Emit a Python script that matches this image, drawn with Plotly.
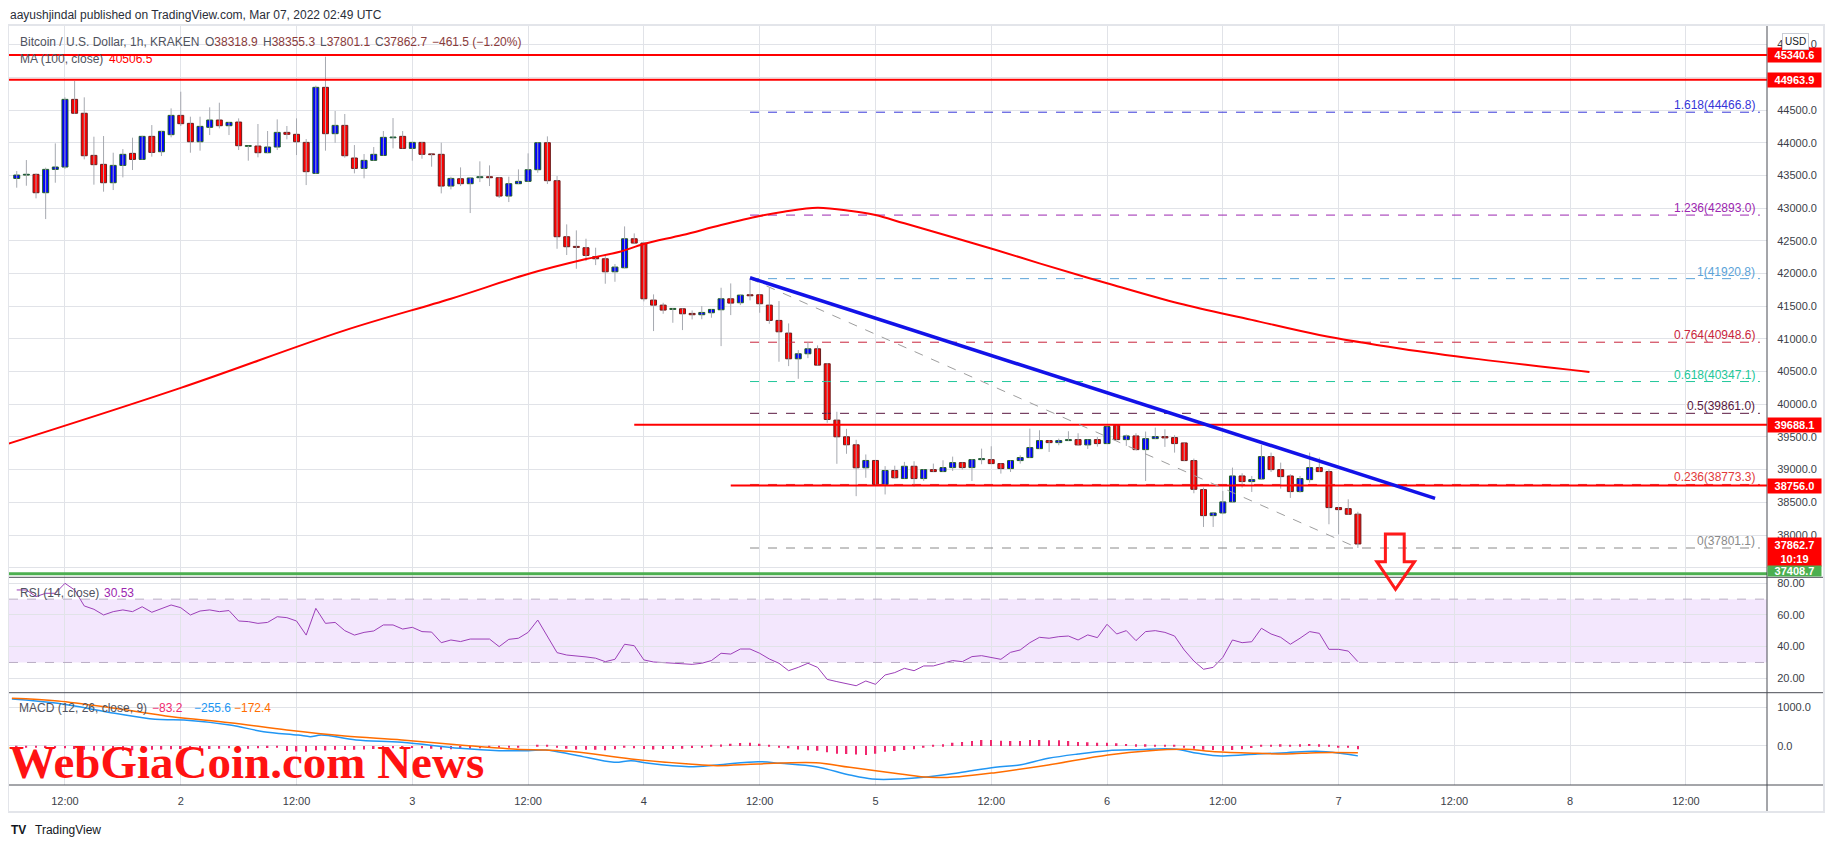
import pandas as pd
import plotly.graph_objects as go

# BTC/USD 1h candles (KRAKEN), first candle 2022-03-01 07:00
START = "2022-03-01 07:00"
OPEN = [43454, 43505, 43516, 43235, 43592, 43628, 44663, 44450, 43806, 43669,
        43388, 43653, 43837, 43745, 44097, 43862, 44123, 44418, 44296, 44015,
        44235, 44347, 44260, 44316, 43944, 43949, 43847, 43934, 44158, 44128,
        44005, 43531, 44847, 44138, 44265, 43766, 43607, 43730, 43806, 44075,
        44097, 43913, 44005, 43827, 43822, 43337,
        43449, 43373, 43465, 43480, 43465, 43184, 43373, 43409, 43587, 44000,
        43419, 42562, 42414, 42394, 42256, 42225, 42026, 42087, 42531, 42465,
        41593, 41516, 41450, 41460, 41389, 41369, 41399, 41445, 41613, 41552,
        41674, 41674, 41516, 41282, 41088, 40695, 40772, 40848, 40619, 39757,
        39502, 39380, 39028, 39140, 38773, 38987,
        38863, 39051, 38863, 39000, 38970, 39031, 39107, 39031, 39153, 39153,
        39092, 39016, 39138, 39184, 39321, 39444, 39413, 39444, 39459, 39378,
        39459, 39398, 39679, 39459, 39515, 39306, 39474, 39505, 39490, 39408,
        39138, 38694, 38296, 38337, 38506, 38903, 38817, 38857, 39199, 39000,
        38903, 38664, 38847, 39031, 38970, 38419, 38403, 38318.9]
HIGH = [43567, 43735, 43530, 43618, 43990, 44694, 44944, 44694, 44092, 44102,
        43847, 43903, 44077, 44105, 44270, 44180, 44525, 44780, 44398, 44398,
        44541, 44612, 44315, 44372, 43955, 44286, 44179, 44357, 44255, 44372,
        44056, 44872, 45316, 44485, 44439, 43964, 43827, 43934, 44179, 44377,
        44179, 44010, 44010, 43830, 44000, 43480,
        43623, 43465, 43715, 43653, 43470, 43480, 43592, 43837, 44005, 44097,
        43490, 42751, 42659, 42532, 42394, 42266, 42144, 42720, 42613, 42470,
        41680, 41552, 41470, 41465, 41435, 41501, 41455, 41782, 41848, 41675,
        41920.8, 41680, 41782, 41578, 41236, 40828, 40950, 40900, 40630, 39885,
        39624, 39456, 39232, 39145, 39053, 39060,
        39118, 39128, 39005, 39092, 39143, 39199, 39110, 39160, 39321, 39357,
        39095, 39140, 39219, 39627, 39602, 39450, 39474, 39587, 39556, 39462,
        39498, 39660, 39685, 39536, 39556, 39582, 39643, 39617, 39526, 39412,
        39169, 38725, 38340, 38674, 39031, 38944, 38903, 39378, 39260, 39107,
        38929, 38903, 39260, 39184, 39005, 38430, 38546, 38355.3]
LOW = [43312, 43342, 43149, 42832, 43388, 43600, 44440, 43745, 43358, 43251,
       43276, 43470, 43582, 43740, 43786, 43796, 44082, 44255, 43847, 43878,
       44117, 44219, 44117, 43888, 43725, 43776, 43840, 43888, 44051, 43811,
       43352, 43525, 43878, 44000, 43771, 43531, 43455, 43725, 43800, 43913,
       43910, 43725, 43755, 43633, 43225, 43286,
       43337, 42924, 43398, 43337, 43154, 43092, 43370, 43405, 43540, 43368,
       42378, 42282, 42072, 42190, 42128, 41843, 41873, 42080, 42460, 41573,
       41119, 41384, 41246, 41134, 41297, 41300, 41323, 40889, 41363, 41516,
       41588, 41399, 41231, 40650, 40583, 40389, 40705, 40590, 39716, 39089,
       39242, 38594, 38875, 38768, 38620, 38860,
       38860, 38740, 38827, 38965, 38965, 38980, 39000, 38827, 39082, 39088,
       38939, 38964, 39092, 39180, 39316, 39270, 39372, 39440, 39375, 39316,
       39352, 39395, 39455, 39362, 39300, 38827, 39470, 39347, 39260, 39130,
       38638, 38123, 38123, 38317, 38500, 38725, 38658, 38850, 38964, 38710,
       38567, 38648, 38801, 38965, 38164, 38011, 38310, 37801.1]
CLOSE = [43505, 43515, 43235, 43592, 43628, 44663, 44450, 43801, 43664, 43388,
         43653, 43822, 43745, 44097, 43852, 44174, 44418, 44291, 44015, 44250,
         44347, 44260, 44311, 43954, 43949, 43847, 43934, 44158, 44128, 44015,
         43557, 44847, 44138, 44265, 43801, 43607, 43730, 43822, 44082, 44085,
         43913, 44005, 43822, 43817, 43337, 43454,
         43373, 43460, 43480, 43465, 43184, 43373, 43409, 43587, 44000, 43419,
         42562, 42409, 42399, 42276, 42225, 42026, 42098, 42531, 42465, 41613,
         41516, 41440, 41465, 41384, 41369, 41404, 41450, 41613, 41547, 41669,
         41659, 41537, 41282, 41108, 40695, 40772, 40848, 40598, 39767, 39502,
         39380, 39028, 39140, 38773, 38987, 38875,
         39051, 38863, 39000, 38970, 39031, 39107, 39031, 39153, 39168, 39092,
         39016, 39138, 39184, 39337, 39444, 39413, 39444, 39459, 39378, 39459,
         39398, 39658, 39459, 39515, 39306, 39474, 39505, 39485, 39398, 39138,
         38699, 38296, 38337, 38506, 38903, 38817, 38847, 39199, 39000, 38893,
         38664, 38863, 39031, 38970, 38419, 38388, 38317, 37862.7]

RSI = [75.8, 75.8, 71.6, 73.7, 73.7, 80.0, 75.8, 65.7, 63.6, 60.0,
       62.1, 63.2, 62.1, 65.2, 61.7, 64.2, 66.3, 64.6, 60.0, 62.5,
       63.2, 62.1, 62.8, 56.2, 55.8, 54.7, 55.3, 58.9, 58.3, 56.2,
       47.3, 64.2, 54.7, 55.3, 50.1, 47.3, 49.0, 49.9, 53.7, 53.7,
       51.1, 52.2, 49.5, 49.2, 42.5, 44.2, 43.2, 44.8, 45.0, 44.8,
       40.0, 44.6, 45.3, 49.0, 56.8, 46.3, 36.2, 34.7, 34.3, 33.5,
       32.7, 30.5, 32.0, 41.5, 40.6, 31.6, 30.3, 29.9, 29.9, 29.5,
       28.8, 29.5, 31.2, 35.8, 35.3, 38.5, 38.5, 35.8, 32.2, 29.5,
       24.8, 26.9, 29.5, 26.9, 19.3, 17.9, 16.8, 15.3, 18.3, 16.2,
       22.1, 23.6, 26.3, 24.8, 27.8, 27.8, 29.5, 31.2, 30.5, 33.7,
       34.3, 33.0, 32.0, 36.4, 37.9, 42.5, 45.9, 45.3, 46.3, 46.7,
       44.2, 47.4, 45.7, 54.1, 48.0, 50.1, 43.8, 49.5, 50.1, 49.0,
       46.7, 37.9, 30.9, 25.7, 26.9, 33.2, 44.2, 42.5, 43.1, 51.6,
       48.0, 45.9, 41.5, 45.3, 49.5, 48.4, 38.3, 38.3, 37.2, 30.53]

HIST = [-20, -30, -40, -50, -55, -60, -80, -100, -115, -125,
        -129, -120, -110, -100, -95, -90, -86, -80, -90, -95,
        -80, -70, -60, -65, -70, -60, -50, -45, -130, -140,
        -150, -110, -115, -100, -105, -100, -90, -75, -65, -60,
        -60, -55, -60, -70, -90, -86, -80, -70, -60, -50,
        -40, -35, -30, 0, 20, 10, -40, -70, -90, -95,
        -100, -110, -86, -43, -60, -80, -90, -80, -75, -70,
        -50, -30, 10, 40, 60, 80, 86, 60, 20, -20,
        -60, -90, -110, -120, -160, -200, -210, -220, -230, -200, -150, -130,
        -103, -86, -20, 17, 43, 86, 103, 129, 155, 155,
        138, 129, 129, 155, 155, 146, 146, 129, 103, 95,
        86, 86, 69, 52, 43, 43, 26, 26, 9, -26,
        -69, -95, -103, -120, -103, -86, -52, 9, 17, 43,
        26, 43, 52, 43, 17, -26, -34, -83.2]

MACD_T = ["2022-03-01 06:30", "2022-03-01 11:15", "2022-03-01 17:10", "2022-03-01 21:20",
          "2022-03-02 00:20", "2022-03-02 05:05", "2022-03-02 08:35", "2022-03-02 12:10",
          "2022-03-02 13:25", "2022-03-02 14:35", "2022-03-02 18:10", "2022-03-02 22:55",
          "2022-03-03 04:55", "2022-03-03 09:00", "2022-03-03 12:00", "2022-03-03 13:50",
          "2022-03-03 16:50", "2022-03-03 20:55", "2022-03-03 22:40", "2022-03-04 00:30",
          "2022-03-04 04:40", "2022-03-04 07:35", "2022-03-04 11:50", "2022-03-04 14:10",
          "2022-03-04 17:50", "2022-03-04 21:20", "2022-03-04 23:40", "2022-03-05 02:35",
          "2022-03-05 05:00", "2022-03-05 08:40", "2022-03-05 12:25", "2022-03-05 14:55",
          "2022-03-05 17:55", "2022-03-05 21:00", "2022-03-06 00:05", "2022-03-06 03:10",
          "2022-03-06 06:55", "2022-03-06 09:25", "2022-03-06 11:50", "2022-03-06 15:35",
          "2022-03-06 18:35", "2022-03-06 21:40", "2022-03-07 00:10", "2022-03-07 02:00"]
MACD = [1214, 1102, 844, 689, 672, 543, 370, 284, 241, 284, 155, 95, -60, -121, -121, -103,
        -233, -422, -379, -448, -534, -491, -405, -448, -534, -749, -853, -853,
        -810, -689, -551, -491, -319, -207, -121, -95, -78, -189, -258, -207, -172, -138,
        -189, -255.6]
SIG_T = ["2022-03-01 06:30", "2022-03-01 11:15", "2022-03-01 17:10", "2022-03-01 23:05",
         "2022-03-02 05:05", "2022-03-02 11:00", "2022-03-02 17:00", "2022-03-02 22:55",
         "2022-03-03 04:55", "2022-03-03 10:50", "2022-03-03 13:50", "2022-03-03 16:50",
         "2022-03-03 22:40", "2022-03-04 04:40", "2022-03-04 07:35", "2022-03-04 11:50",
         "2022-03-04 17:50", "2022-03-04 21:20", "2022-03-05 02:35", "2022-03-05 05:35",
         "2022-03-05 08:40", "2022-03-05 12:25", "2022-03-05 17:55", "2022-03-06 00:05",
         "2022-03-06 04:25", "2022-03-06 08:05", "2022-03-06 11:10", "2022-03-06 15:35",
         "2022-03-06 18:35", "2022-03-06 21:40", "2022-03-07 02:00"]
SIGNAL = [1232, 1163, 973, 758, 603, 413, 258, 155, 26, -86, -103, -146, -336, -465, -508,
          -465, -431, -551, -723, -810, -792, -689, -491, -233, -121, -86, -146, -189, -207,
          -172, -172.4]

MA_T = ["2022-03-01 06:00", "2022-03-02 00:00", "2022-03-02 17:00", "2022-03-03 04:00",
        "2022-03-03 12:00", "2022-03-03 18:00", "2022-03-03 21:30",
        "2022-03-04 00:00", "2022-03-04 04:00", "2022-03-04 08:00", "2022-03-04 12:00",
        "2022-03-04 14:30", "2022-03-04 18:00", "2022-03-04 21:30", "2022-03-05 00:00",
        "2022-03-05 03:00", "2022-03-05 12:30", "2022-03-05 17:00", "2022-03-06 00:00",
        "2022-03-06 07:30", "2022-03-06 15:00", "2022-03-06 22:00", "2022-03-07 06:30",
        "2022-03-07 14:30", "2022-03-08 02:00"]
MA = [39390, 40250, 41130, 41614, 41992, 42220, 42333, 42451, 42588, 42741, 42879,
      42945, 43006, 42955, 42894, 42767, 42359, 42155, 41850, 41540, 41290, 41060, 40850,
      40690, 40493]

# drawn objects
TREND_T = ["2022-03-04 11:00", "2022-03-07 10:00"]
TREND_P = [41935, 38560]
FIB_SWING_T = ["2022-03-04 11:00", "2022-03-07 02:00"]
FIB_SWING_P = [41920.8, 37801.1]
FIB_END = "2022-03-08 19:40"
FIB_RATIO = ["1.618", "1.236", "1", "0.764", "0.618", "0.5", "0.236", "0"]
FIB_LEVEL = [44466.8, 42893.0, 41920.8, 40948.6, 40347.1, 39861.0, 38773.3, 37801.1]
FIB_COLOR = ["#3535d8", "#9c27b0", "#5aa2d8", "#c8243c", "#22c79a", "#5a1840", "#e23a3a", "#8a8a8a"]
LEVEL_P = [45340.6, 44963.9, 39688.1, 38756.0]
LEVEL_FROM = [None, None, "2022-03-03 23:00", "2022-03-04 09:00"]
SUPPORT_P = 37408.7
LAST_CLOSE = 37862.7

X_RANGE = [pd.Timestamp("2022-03-01 06:12"), pd.Timestamp("2022-03-08 20:24")]
X_TICKS = ["2022-03-01 12:00", "2022-03-02", "2022-03-02 12:00", "2022-03-03", "2022-03-03 12:00",
           "2022-03-04", "2022-03-04 12:00", "2022-03-05", "2022-03-05 12:00", "2022-03-06",
           "2022-03-06 12:00", "2022-03-07", "2022-03-07 12:00", "2022-03-08", "2022-03-08 12:00"]
X_TEXT = ["12:00", "2", "12:00", "3", "12:00", "4", "12:00", "5", "12:00", "6", "12:00", "7",
          "12:00", "8", "12:00"]
PRICE_TICKS = list(range(37500, 46000, 500))

FONT = "Liberation Sans, Arial, sans-serif"
GRID = "#e1e3e8"
SEP = "#4a4d55"
TXT = "#3b3e48"

# the page body has an 8px margin, so the figure is drawn 8px smaller and
# all pixel positions below are page pixels shifted by OFF
OFF = 8
FIG_W, FIG_H = 1834 - OFF, 848 - OFF
# plot area in page pixels
L, R, T, B = 9, 1767, 26, 785


def px_x(p):
    return (p - L) / (R - L)


def px_y(p):
    return (B - p) / (B - T)


P_DOM = [px_y(577.3), 1]
R_DOM = [px_y(692.7), px_y(577.3)]
M_DOM = [0, px_y(692.7)]
P_RANGE = [37353, 45785]
R_RANGE = [10.9, 83.8]
M_RANGE = [-1008, 1377]


def price_paper(p):
    return P_DOM[0] + (p - P_RANGE[0]) / (P_RANGE[1] - P_RANGE[0]) * (P_DOM[1] - P_DOM[0])


def time_paper(t):
    return (pd.Timestamp(t) - X_RANGE[0]) / (X_RANGE[1] - X_RANGE[0])


times = pd.date_range(START, periods=len(CLOSE), freq="h")
HOUR = 3600 * 1000

fig = go.Figure()

# fib levels
for lvl, col in zip(FIB_LEVEL, FIB_COLOR):
    fig.add_trace(go.Scatter(x=[FIB_SWING_T[0], FIB_END], y=[lvl, lvl], mode="lines",
                             line=dict(color=col, width=1, dash="dash"), xaxis="x", yaxis="y"))

# wicks
wx, wy = [], []
for t, hi, lo in zip(times, HIGH, LOW):
    wx += [t, t, None]
    wy += [lo, hi, None]
fig.add_trace(go.Scatter(x=wx, y=wy, mode="lines", line=dict(color="#a6a9b0", width=1),
                         xaxis="x", yaxis="y"))

# bodies
for is_up, fill, edge in [(True, "#0000ff", "#1f5f24"), (False, "#ff0000", "#6b1c1c")]:
    sel = [i for i in range(len(CLOSE)) if (CLOSE[i] >= OPEN[i]) == is_up]
    fig.add_trace(go.Bar(
        x=[times[i] for i in sel],
        base=[min(OPEN[i], CLOSE[i]) for i in sel],
        y=[max(abs(CLOSE[i] - OPEN[i]), 12) for i in sel],
        width=0.62 * HOUR, marker=dict(color=fill, line=dict(color=edge, width=1)),
        xaxis="x", yaxis="y"))

# MA(100)
fig.add_trace(go.Scatter(x=MA_T, y=MA, mode="lines", line=dict(color="#ff0000", width=2),
                         line_shape="spline", xaxis="x", yaxis="y"))

# horizontal levels
for p, frm in zip(LEVEL_P, LEVEL_FROM):
    fig.add_trace(go.Scatter(x=[frm or X_RANGE[0], X_RANGE[1]], y=[p, p], mode="lines",
                             line=dict(color="#ff0000", width=2), xaxis="x", yaxis="y"))
fig.add_trace(go.Scatter(x=[X_RANGE[0], X_RANGE[1]], y=[SUPPORT_P, SUPPORT_P], mode="lines",
                         line=dict(color="#4caf50", width=3), xaxis="x", yaxis="y"))

# fib swing diagonal and trend line
fig.add_trace(go.Scatter(x=FIB_SWING_T, y=FIB_SWING_P, mode="lines",
                         line=dict(color="#9e9e9e", width=1, dash="dash"), xaxis="x", yaxis="y"))
fig.add_trace(go.Scatter(x=TREND_T, y=TREND_P, mode="lines",
                         line=dict(color="#1212e8", width=3.5), xaxis="x", yaxis="y"))

# RSI
fig.add_trace(go.Scatter(x=times, y=RSI, mode="lines", line=dict(color="#9c3fb8", width=1),
                         xaxis="x2", yaxis="y2"))

# MACD
fig.add_trace(go.Bar(x=times, y=HIST, width=0.16 * HOUR, marker=dict(color="#f0286e", line_width=0),
                     xaxis="x3", yaxis="y3"))
fig.add_trace(go.Scatter(x=MACD_T, y=MACD, mode="lines", line=dict(color="#2196f3", width=1.5),
                         line_shape="spline", xaxis="x3", yaxis="y3"))
fig.add_trace(go.Scatter(x=SIG_T, y=SIGNAL, mode="lines", line=dict(color="#ff6d00", width=1.5),
                         line_shape="spline", xaxis="x3", yaxis="y3"))

xcommon = dict(type="date", range=X_RANGE, tickvals=X_TICKS, showgrid=True, gridcolor=GRID,
               zeroline=False, showline=False, fixedrange=True, automargin=False)
ycommon = dict(side="right", showgrid=True, gridcolor=GRID, zeroline=False, showline=False,
               ticks="outside", ticklen=7, tickcolor="rgba(0,0,0,0)", automargin=False,
               tickfont=dict(family=FONT, size=11, color=TXT))

fig.update_layout(
    width=FIG_W, height=FIG_H,
    margin=dict(l=L - OFF, r=1834 - R, t=T - OFF, b=848 - B, autoexpand=False),
    paper_bgcolor="white", plot_bgcolor="white",
    showlegend=False, barmode="overlay", hovermode=False,
    xaxis=dict(xcommon, anchor="y", showticklabels=False),
    xaxis2=dict(xcommon, anchor="y2", matches="x", showticklabels=False),
    xaxis3=dict(xcommon, anchor="y3", matches="x", ticktext=X_TEXT, ticks="outside", ticklen=6,
                tickcolor="rgba(0,0,0,0)", tickfont=dict(family=FONT, size=11, color=TXT)),
    yaxis=dict(ycommon, domain=P_DOM, range=P_RANGE, anchor="x", tickvals=PRICE_TICKS,
               tickformat=".1f"),
    yaxis2=dict(ycommon, domain=R_DOM, range=R_RANGE, anchor="x2", tickvals=[20, 40, 60, 80],
                tickformat=".2f"),
    yaxis3=dict(ycommon, domain=M_DOM, range=M_RANGE, anchor="x3", tickvals=[0, 1000],
                tickformat=".1f"),
)

shapes = [
    # RSI band
    dict(type="rect", xref="paper", yref="y2", x0=0, x1=1, y0=30, y1=70,
         fillcolor="#f3e7fd", line_width=0, layer="below"),
    dict(type="line", xref="paper", yref="y2", x0=0, x1=1, y0=70, y1=70,
         line=dict(color="#b9adc4", width=1, dash="dash")),
    dict(type="line", xref="paper", yref="y2", x0=0, x1=1, y0=30, y1=30,
         line=dict(color="#b9adc4", width=1, dash="dash")),
]
# pane separators and price scale border
for yp in [577.3, 692.7, 785]:
    shapes.append(dict(type="line", xref="paper", yref="paper", x0=0, x1=px_x(1823),
                       y0=px_y(yp), y1=px_y(yp), line=dict(color=SEP, width=1)))
shapes.append(dict(type="line", xref="paper", yref="paper", x0=1, x1=1, y0=px_y(812),
                   y1=1, line=dict(color=SEP, width=1)))
# outer frame
shapes.append(dict(type="rect", xref="paper", yref="paper", x0=px_x(8), x1=px_x(1824),
                   y0=px_y(812), y1=px_y(25), line=dict(color="#e3e5ea", width=2)))

# hollow down arrow (drawn on chart)
ax = [time_paper(t) for t in ["2022-03-07 04:51", "2022-03-07 06:48", "2022-03-07 03:58",
                              "2022-03-07 07:52", "2022-03-07 05:54"]]
ay = [price_paper(p) for p in [38015, 37592, 37170]]
path = (f"M {ax[0]},{ay[0]} L {ax[1]},{ay[0]} L {ax[1]},{ay[1]} L {ax[3]},{ay[1]} "
        f"L {ax[4]},{ay[2]} L {ax[2]},{ay[1]} L {ax[0]},{ay[1]} Z")
shapes.append(dict(type="path", xref="paper", yref="paper", path=path,
                   line=dict(color="#ff1a1a", width=3), fillcolor="rgba(0,0,0,0)"))
fig.update_layout(shapes=shapes)

ann = []


def text(s, x, y, size=12, color=TXT, anchor="left", family=FONT):
    ann.append(dict(text=s, x=px_x(x), y=px_y(y), xref="paper", yref="paper",
                    xanchor=anchor, yanchor="middle", showarrow=False,
                    font=dict(family=family, size=size, color=color)))


text("aayushjindal published on TradingView.com, Mar 07, 2022 02:49 UTC", 8, 15, 12, "#2a2e39")
VAL = "#8a3b3b"
text("Bitcoin / U.S. Dollar, 1h, KRAKEN", 18, 42, 12, "#50535e")
for lab, val, x in [("O", "38318.9", 203), ("H", "38355.3", 261), ("L", "37801.1", 318),
                    ("C", "37862.7", 373)]:
    text(f"{lab}<span style='color:{VAL}'>{val}</span>", x, 42, 12, "#50535e")
text("−461.5 (−1.20%)", 430, 42, 12, VAL)
text("MA (100, close)", 18, 59, 12, "#50535e")
text("40506.5", 107, 59, 12, "#ff0000")
text("RSI (14, close)", 18, 593, 12, "#50535e")
text("30.53", 102, 593, 12, "#9c27b0")
text("MACD (12, 26, close, 9)", 17, 708, 12, "#50535e")
text("−83.2", 150, 708, 12, "#f0286e")
text("−255.6", 192, 708, 12, "#2196f3")
text("−172.4", 232, 708, 12, "#ff6d00")

# watermark
text("<b>WebGiaCoin.com News</b>", 7, 762, 47, "#ff1212", family="Liberation Serif, serif")

# footer
text("<b>TV</b>", 9, 830, 12, "#131722")
text("TradingView", 33, 830, 12, "#131722")

# fib labels
for r, lvl, col in zip(FIB_RATIO, FIB_LEVEL, FIB_COLOR):
    ann.append(dict(text=f"{r}({lvl:.1f})", x=px_x(1757), y=lvl, xref="paper", yref="y",
                    xanchor="right", yanchor="bottom", yshift=-2, showarrow=False,
                    font=dict(family=FONT, size=12, color=col)))

# price scale labels
for p, bg in [(45340.6, "#ff0000"), (44963.9, "#ff0000"), (39688.1, "#ff0000"), (38756.0, "#ff0000")]:
    ann.append(dict(text=f"<b>{p:.1f}</b>", x=1, y=p, xref="paper", yref="y", xanchor="left",
                    yanchor="middle", width=53, height=14, borderpad=0, bgcolor=bg,
                    showarrow=False, font=dict(family=FONT, size=11, color="white")))
ann.append(dict(text=f"<b>{LAST_CLOSE:.1f}<br>10:19</b>", x=1, y=LAST_CLOSE, xref="paper",
                yref="y", xanchor="left", yanchor="top", yshift=7, width=53, height=28,
                borderpad=0, bgcolor="#ff0000", showarrow=False,
                font=dict(family=FONT, size=11, color="white")))
ann.append(dict(text=f"<b>{SUPPORT_P:.1f}</b>", x=1, y=P_DOM[0], xref="paper", yref="paper",
                xanchor="left", yanchor="bottom", width=53, height=10, borderpad=0,
                bgcolor="#4caf50", showarrow=False, font=dict(family=FONT, size=11, color="white")))
ann.append(dict(text="USD", x=px_x(1795), y=px_y(42), xref="paper", yref="paper",
                xanchor="center", yanchor="middle", bgcolor="white", bordercolor="#c9ccd4",
                borderwidth=1, borderpad=2, showarrow=False,
                font=dict(family=FONT, size=10, color="#131722")))

fig.update_layout(annotations=ann)
fig.write_html("out.html", config={"displayModeBar": False})
